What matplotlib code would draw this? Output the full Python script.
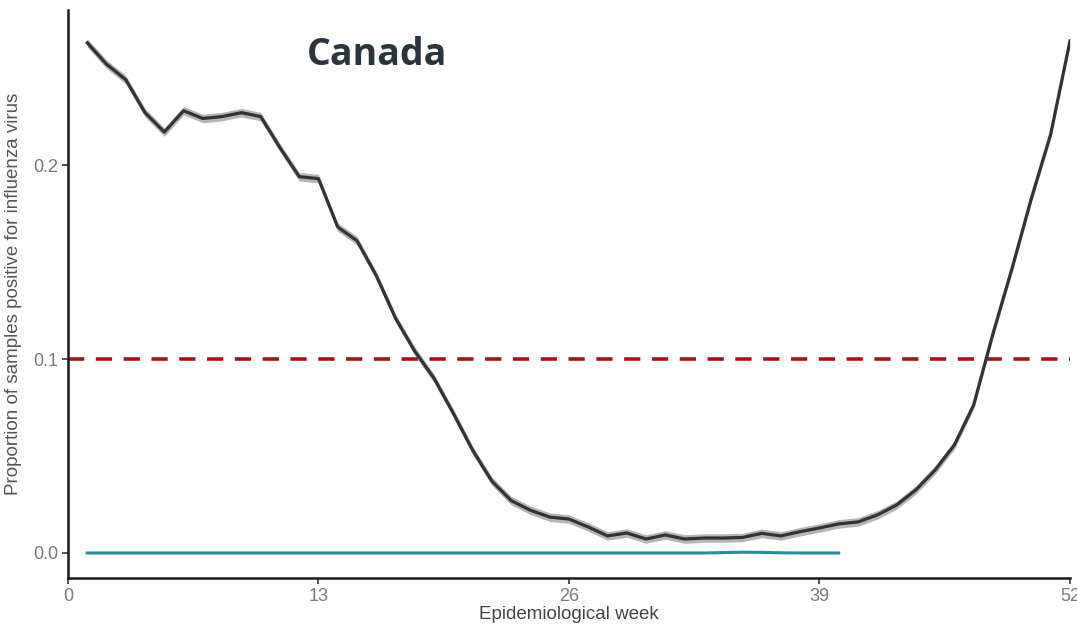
import numpy as np
import matplotlib
matplotlib.use("Agg")
import matplotlib.pyplot as plt

# weekly proportion of influenza-positive samples
weeks = np.arange(1, 53)
flu_prop = [0.263, 0.252, 0.244, 0.227, 0.217, 0.228, 0.224, 0.225, 0.227, 0.225,
            0.209, 0.194, 0.193, 0.168, 0.161, 0.143, 0.121, 0.104, 0.090, 0.072,
            0.053, 0.037, 0.027, 0.022, 0.0185, 0.0175, 0.0134, 0.0088, 0.0103, 0.0072,
            0.0093, 0.0072, 0.0077, 0.0077, 0.0080, 0.0101, 0.0088, 0.0110, 0.0129, 0.0150,
            0.0160, 0.0196, 0.0247, 0.0325, 0.0428, 0.0557, 0.0763, 0.113, 0.147, 0.183,
            0.216, 0.264]
flu_err = 0.0022

# second series, weeks 1-40
other_weeks = np.arange(1, 41)
other_prop = [0.0] * 33 + [0.0002, 0.0004, 0.0003, 0.0001, 0.0, 0.0, 0.0]

threshold = 0.1

fig = plt.figure(figsize=(10.77, 6.25), dpi=100)
ax = fig.add_axes([0.0631, 0.0752, 0.9304, 0.909])

flu = np.array(flu_prop)
ax.fill_between(weeks, flu - flu_err, flu + flu_err, color="#b5b5b5", lw=0, zorder=2)
ax.plot(weeks, flu, color="#333333", lw=2.3, zorder=3)
ax.plot(other_weeks, other_prop, color="#2f8b98", lw=2.2, zorder=3)
ax.axhline(threshold, color="#a31515", lw=2.6, ls=(0, (4.5, 3.2)), zorder=2)

ax.set_xlim(0, 52)
ax.set_ylim(-0.0129, 0.28)
ax.set_xticks([0, 13, 26, 39, 52])
ax.set_yticks([0.0, 0.1, 0.2])
ax.set_yticklabels(["0.0", "0.1", "0.2"])

for side in ["top", "right"]:
    ax.spines[side].set_visible(False)
for side in ["left", "bottom"]:
    ax.spines[side].set_linewidth(1.8)
    ax.spines[side].set_color("#1a1a1a")

ax.tick_params(length=4, width=1.2, color="#333333", labelcolor="#7a7a7a",
               labelsize=13, pad=3)
for lab in ax.get_xticklabels() + ax.get_yticklabels():
    lab.set_family("Liberation Sans")

ax.set_ylabel("Proportion of samples positive for influenza virus",
              family="Liberation Sans", fontsize=13.5, color="#555555", labelpad=8)
ax.set_xlabel("Epidemiological week", family="Liberation Sans",
              fontsize=13.5, color="#444444", labelpad=1)

ax.text(0.238, 0.921, "Canada", transform=ax.transAxes, family="Open Sans",
        fontweight="bold", fontsize=27, color="#2b333d", va="center", ha="left")

fig.savefig("out.png", dpi=100)
